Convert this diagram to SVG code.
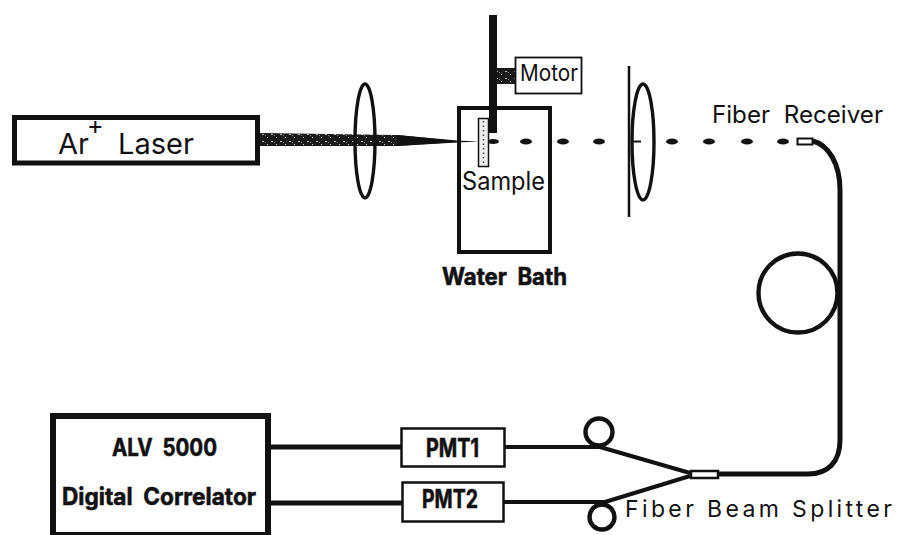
<svg xmlns="http://www.w3.org/2000/svg" width="901" height="535" viewBox="0 0 901 535">
<style>
text{font-family:"Inter","Liberation Sans",sans-serif;fill:#111}
.b{font-weight:700;stroke:#111;stroke-width:.6}
.box{fill:#fff;stroke:#111}
.lens{fill:none;stroke:#111;stroke-width:3.4}
.wire{fill:none;stroke:#111;stroke-width:4;stroke-linejoin:round}
.loop{fill:none;stroke:#111;stroke-width:4.400}
.dash{fill:#111}
</style>
<defs>
<pattern id="speck" width="9" height="7" patternUnits="userSpaceOnUse">
<rect width="9" height="7" fill="#1a1a1a"/>
<rect x="1" y="1" width="2" height="1" fill="#bbb"/>
<rect x="6" y="4" width="1" height="1" fill="#ddd"/>
<rect x="4" y="2" width="1" height="1" fill="#888"/>
</pattern>
</defs>
<rect width="901" height="535" fill="#fff"/>
<g id="connectors">
<path id="beam" d="M260 133L397 135L457 141L478 141.500L457 142L397 146L260 146Z" fill="url(#speck)"/>
<path d="M397 135L457 140.500L478 141.500L457 142.500L397 146Z" fill="#111"/>
<g class="dash">
<ellipse cx="493" cy="141.500" rx="6" ry="2.500"/><ellipse cx="526" cy="141.500" rx="6" ry="3"/><ellipse cx="563" cy="141.500" rx="6" ry="3"/><ellipse cx="599" cy="141.500" rx="6" ry="3"/><ellipse cx="672" cy="141.500" rx="6" ry="3"/><ellipse cx="709" cy="141.500" rx="6" ry="3"/><ellipse cx="747" cy="141.500" rx="6" ry="3"/><ellipse cx="783" cy="141.500" rx="6" ry="3"/>
<rect x="631" y="140.500" width="10" height="2"/>
</g>
<rect id="motor-shaft" x="497" y="68" width="18" height="16" fill="url(#speck)"/>
<path class="wire" style="stroke-width:5" d="M813 141C828 145 840 163 840 190L840 440C840 462 828 474 808 474L718 474"/>
<circle class="loop" cx="798" cy="293" r="39.500"/>
<path class="wire" d="M505 447L600 447L690 473"/>
<path class="wire" d="M504 502L605 502L690 476"/>
<circle class="loop" cx="599" cy="432" r="13.500"/>
<circle class="loop" cx="602" cy="517" r="12.500"/>
<path class="wire" style="stroke-width:5" d="M271 447L401 447"/>
<path class="wire" style="stroke-width:5" d="M271 503L402 503"/>
</g>
<g id="laser">
<rect class="box" style="stroke-width:5" x="14.500" y="117.500" width="243" height="45.500"/>
<text x="58" y="154" font-size="29">Ar<tspan x="87" y="134" font-size="25">+</tspan><tspan x="118" y="154">Laser</tspan></text>
</g>
<g id="lens-1"><ellipse class="lens" cx="365" cy="141" rx="10" ry="57"/></g>
<g id="water-bath">
<rect x="459" y="108" width="91" height="144" fill="none" stroke="#111" stroke-width="4"/>
<text class="b" x="442" y="285" font-size="24" textLength="125" lengthAdjust="spacingAndGlyphs">Water&#160;&#160;Bath</text>
</g>
<g id="sample">
<rect x="478.500" y="118.500" width="10" height="48" fill="#eee" stroke="#111" stroke-width="1.500"/>
<path d="M483.500 121V165" stroke="#444" stroke-width="1.500" stroke-dasharray="1.500 3"/>
<text x="462" y="190" font-size="25" textLength="83" lengthAdjust="spacingAndGlyphs">Sample</text>
</g>
<g id="rod"><rect x="489" y="15" width="8" height="118" fill="#111"/></g>
<g id="motor">
<rect class="box" style="stroke-width:1.800" x="515.500" y="57.500" width="66" height="36"/>
<text x="520" y="81" font-size="23" textLength="58" lengthAdjust="spacingAndGlyphs">Motor</text>
</g>
<g id="lens-2">
<path d="M629 66V217" stroke="#111" stroke-width="2.500"/>
<ellipse class="lens" cx="643" cy="142" rx="11" ry="58"/>
</g>
<g id="fiber-receiver">
<rect class="box" style="stroke-width:2" x="797.500" y="138.500" width="15" height="6"/>
<text x="712" y="123" font-size="24" textLength="171" lengthAdjust="spacingAndGlyphs">Fiber&#160;&#160;Receiver</text>
</g>
<g id="pmt1">
<rect class="box" style="stroke-width:2.500" x="401.500" y="428.500" width="103" height="38"/>
<text class="b" x="426" y="457" font-size="25" textLength="53" lengthAdjust="spacingAndGlyphs">PMT1</text>
</g>
<g id="pmt2">
<rect class="box" style="stroke-width:2.500" x="402.500" y="482.500" width="101" height="39"/>
<text class="b" x="422" y="508" font-size="25" textLength="56" lengthAdjust="spacingAndGlyphs">PMT2</text>
</g>
<g id="beam-splitter">
<rect class="box" style="stroke-width:2.500" x="691" y="471" width="27" height="7"/>
<text x="625" y="517" font-size="23" textLength="267" lengthAdjust="spacing">Fiber Beam Splitter</text>
</g>
<g id="correlator">
<rect class="box" style="stroke-width:6" x="53" y="416" width="215" height="119"/>
<text class="b" x="112" y="456" font-size="24" textLength="105" lengthAdjust="spacingAndGlyphs">ALV&#160;&#160;5000</text>
<text class="b" x="62" y="505" font-size="24" textLength="194" lengthAdjust="spacingAndGlyphs">Digital&#160;&#160;Correlator</text>
</g>
</svg>
